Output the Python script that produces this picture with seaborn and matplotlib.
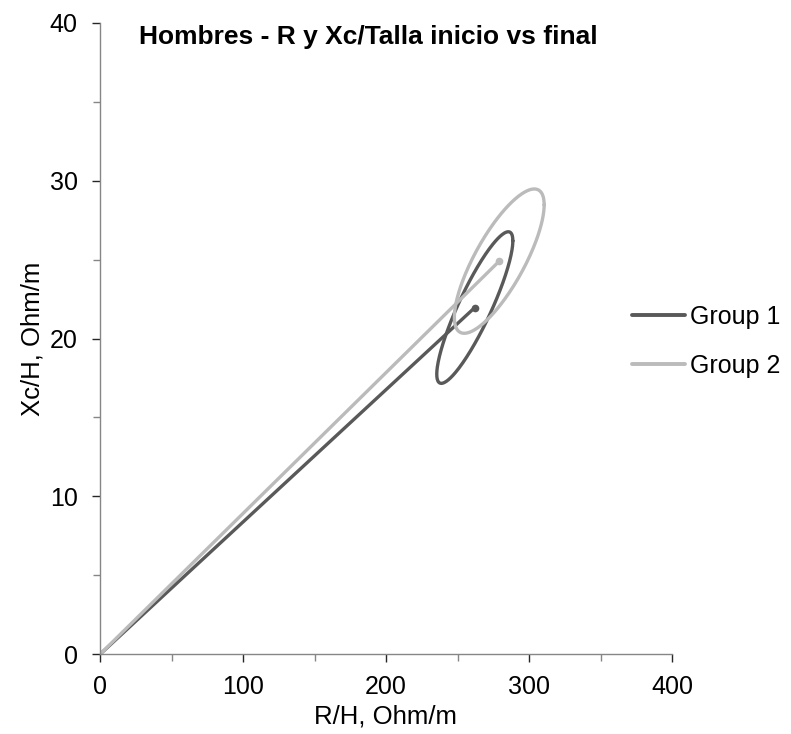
import numpy as np
import pandas as pd
import seaborn as sns
import matplotlib.pyplot as plt
from matplotlib.ticker import MultipleLocator
from matplotlib.lines import Line2D

# Mean impedance vectors (R/H, Xc/H) per group and their tolerance ellipses
groups = ["Group 1", "Group 2"]
mean_r = [262.1, 279.2]          # R/H, Ohm/m
mean_xc = [21.96, 24.9]          # Xc/H, Ohm/m
spread_r = [26.6, 31.4]          # ellipse half-extent along R/H
spread_xc = [4.80, 4.57]         # ellipse half-extent along Xc/H
corr = [0.88, 0.78]              # R/H–Xc/H correlation
colors = ["#595959", "#BBBBBB"]

x_ticks = [0, 100, 200, 300, 400]
y_ticks = [0, 10, 20, 30, 40]

sns.set_style("ticks")
plt.rcParams["font.family"] = ["Liberation Sans", "DejaVu Sans"]
plt.rcParams["text.color"] = "black"
plt.rcParams["axes.labelcolor"] = "black"

# Build long-form table: vector from the origin plus the ellipse outline
t = np.linspace(0, 2 * np.pi, 240)
rows = []
for g, cx, cy, sx, sy, r in zip(groups, mean_r, mean_xc, spread_r, spread_xc, corr):
    rows.append(pd.DataFrame({"R": [0.0, cx], "Xc": [0.0, cy],
                              "group": g, "part": "vector"}))
    ex = cx + sx * np.cos(t)
    ey = cy + sy * (r * np.cos(t) + np.sqrt(1 - r ** 2) * np.sin(t))
    rows.append(pd.DataFrame({"R": ex, "Xc": ey, "group": g, "part": "ellipse"}))
df = pd.concat(rows, ignore_index=True)
df["unit"] = df["group"] + "_" + df["part"]

fig = plt.figure(figsize=(7.91, 7.34), dpi=100)
ax = fig.add_axes([100 / 791, 1 - 654.3 / 734, 572 / 791, (654.3 - 22.7) / 734])

sns.lineplot(data=df, x="R", y="Xc", hue="group", units="unit",
             estimator=None, sort=False, palette=colors, linewidth=2.4,
             ax=ax, legend=False)

# End-point dots of the mean vectors
for cx, cy, c in zip(mean_r, mean_xc, colors):
    ax.plot([cx], [cy], marker="o", markersize=4.5, color=c, linestyle="none")

ax.set_xlim(0, 400)
ax.set_ylim(0, 40)
ax.set_xticks(x_ticks)
ax.set_yticks(y_ticks)
ax.xaxis.set_minor_locator(MultipleLocator(50))
ax.yaxis.set_minor_locator(MultipleLocator(5))

sns.despine(ax=ax)
for side in ("left", "bottom"):
    ax.spines[side].set_color("#868686")
    ax.spines[side].set_linewidth(1.0)

ax.tick_params(which="major", direction="out", length=6, width=1.0,
               color="#262626", labelsize=18, labelcolor="black")
ax.tick_params(axis="x", which="major", pad=9)
ax.tick_params(axis="y", which="major", pad=10)
ax.tick_params(which="minor", direction="out", length=5, width=1.0,
               color="#868686")

ax.set_xlabel("R/H, Ohm/m", fontsize=18.5, labelpad=4, color="black")
ax.set_ylabel("Xc/H, Ohm/m", fontsize=18.5, labelpad=4, color="black")

fig.text(139 / 791, 1 - 37 / 734, "Hombres - R y Xc/Talla inicio vs final",
         fontsize=19, fontweight="bold", ha="left", va="center", color="black")

handles = [Line2D([0], [0], color=c, linewidth=2.8) for c in colors]
fig.legend(handles, groups, loc="upper left",
           bbox_to_anchor=(632 / 791, 1 - 305 / 734), frameon=False,
           fontsize=18, handlelength=2.1, handletextpad=0.2,
           labelspacing=1.0, borderpad=0, borderaxespad=0)

fig.savefig("out.png", dpi=100)
